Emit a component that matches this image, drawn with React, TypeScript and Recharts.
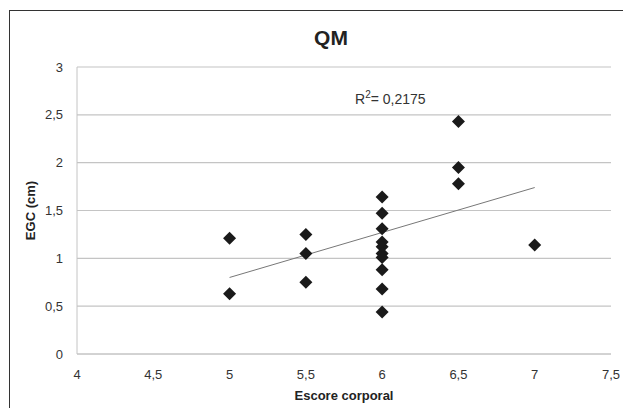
import React from 'react';
import { CartesianGrid, Scatter, ScatterChart, XAxis, YAxis } from 'recharts';

const xTicks = [4, 4.5, 5, 5.5, 6, 6.5, 7, 7.5];
const yTicks = [0, 0.5, 1, 1.5, 2, 2.5, 3];

// escore corporal -> EGC (cm)
const score = [5, 5, 5.5, 5.5, 5.5, 6, 6, 6, 6, 6, 6, 6, 6, 6, 6, 6.5, 6.5, 6.5, 7];
const egc = [1.21, 0.63, 1.25, 1.05, 0.75, 1.64, 1.47, 1.31, 1.17, 1.12, 1.05, 1.01, 0.88, 0.68, 0.44, 2.43, 1.95, 1.78, 1.14];

const trendX = [5, 7];
const trendY = [0.8, 1.74];

const points = score.map((x, i) => ({ x, y: egc[i] }));
const trend = trendX.map((x, i) => ({ x, y: trendY[i] }));

const fmt = (v: number) => String(v).replace('.', ',');
const font = '"Liberation Sans", Arial, sans-serif';

const Diamond = (props: any) => {
  const { cx, cy } = props;
  const r = 6.5;
  return <path d={`M${cx},${cy - r}L${cx + r},${cy}L${cx},${cy + r}L${cx - r},${cy}Z`} fill="#1a1a1a" />;
};

export default function App() {
  return (
    <div style={{ position: 'absolute', left: 0, top: 0, width: 623, height: 408, background: '#fff', fontFamily: font }}>
      <div style={{ position: 'absolute', left: 9, top: 10, width: 640, height: 420, border: '1.5px solid #333' }} />
      <div style={{ position: 'absolute', left: 0, width: 662, top: 26, textAlign: 'center', fontSize: 21, fontWeight: 'bold', color: '#222' }}>QM</div>
      <div style={{ position: 'absolute', left: 355, top: 89, fontSize: 14, color: '#333' }}>
        R<sup style={{ fontSize: 10 }}>2</sup>= 0,2175
      </div>
      <ScatterChart width={623} height={408} margin={{ top: 67, right: 12, bottom: 0, left: 27 }} style={{ position: 'absolute', left: 0, top: 0 }}>
        <CartesianGrid vertical={false} stroke="#c4c4c4" strokeWidth={1.2} />
        <XAxis
          type="number"
          dataKey="x"
          height={54}
          domain={[4, 7.5]}
          ticks={xTicks}
          tickFormatter={fmt}
          tickLine={false}
          tickSize={0}
          tickMargin={16}
          axisLine={{ stroke: '#c4c4c4' }}
          tick={{ fill: '#333', fontSize: 13, fontFamily: font }}
          label={{ value: 'Escore corporal', position: 'insideBottom', offset: 8, fill: '#222', fontSize: 13, fontWeight: 'bold', fontFamily: font }}
        />
        <YAxis
          type="number"
          dataKey="y"
          width={50}
          domain={[0, 3]}
          ticks={yTicks}
          tickFormatter={fmt}
          tickLine={false}
          tickSize={0}
          tickMargin={14}
          axisLine={{ stroke: '#c4c4c4' }}
          tick={{ fill: '#333', fontSize: 13, fontFamily: font }}
          label={{ value: 'EGC (cm)', angle: -90, position: 'insideLeft', offset: 3, fill: '#222', fontSize: 13, fontWeight: 'bold', fontFamily: font, style: { textAnchor: 'middle' } }}
        />
        <Scatter data={trend} line={{ stroke: '#777', strokeWidth: 1 }} shape={() => <g />} isAnimationActive={false} />
        <Scatter data={points} shape={Diamond} isAnimationActive={false} />
      </ScatterChart>
    </div>
  );
}
